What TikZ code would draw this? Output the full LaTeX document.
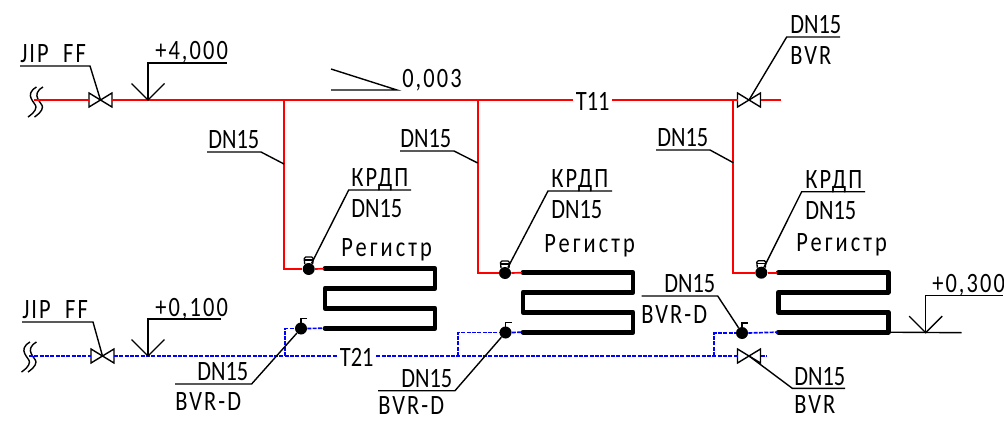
\documentclass[tikz,border=0pt]{standalone}
\usepackage{fontspec}
\setmainfont[FakeStretch=0.8]{Carlito}
\newfontfamily\widefont[FakeStretch=0.8,LetterSpace=7.5]{Carlito}
\newfontfamily\coilfont[FakeStretch=0.8,LetterSpace=11]{Carlito}
\usetikzlibrary{positioning}

\tikzset{
	textlabel/.style={inner sep=0pt, anchor=base west, font=\fontsize{21}{21}\selectfont},
	widelabel/.style={textlabel, font=\widefont\fontsize{21}{21}\selectfont},
	coillabel/.style={textlabel, font=\coilfont\fontsize{21}{21}\selectfont},
	hotpipe/.style={draw=red, line width=1.25pt},
	coldpipe/.style={draw=blue, line width=1.25pt, dash pattern=on 3pt off 1pt},
	leader/.style={draw=black, line width=1.05pt},
	dot/.style={circle, fill=black, inner sep=0pt, minimum size=9pt},
	pics/valve/.style={code={
		\draw[leader] (-11.5,-7) -- (11.5,7) -- (11.5,-7) -- (-11.5,7) -- cycle;
		\coordinate (-w) at (-11.5,0);
		\coordinate (-e) at (11.5,0);
		\coordinate (-c) at (0,0);
	}},
	pics/coil/.style={code={
		\draw[line width=3.6pt, line join=round, line cap=round] (1,0) -- (111,0) -- (111,19.5) -- (1,19.5)
			-- (1,39.5) -- (111,39.5) -- (111,59.5) -- (1,59.5);
		\coordinate (-in) at (0,0);
		\coordinate (-out) at (0,59.5);
		\coordinate (-far) at (111,59.5);
	}},
	pics/levelmark/.style={code={
		\draw[leader] (-16.5,-16.5) -- (0,0) -- (16.5,-16.5);
		\draw[leader] (0,0) |- (#1,-37);
	}},
	pics/breakmark/.style={code={
		\draw[leader] (2.5,-13) .. controls (-11,-5) and (2,3) .. (2,7) .. controls (2,11) and (-3,15) .. (-6,17);
		\draw[leader] (9,-13) .. controls (-4.5,-5) and (8.5,3) .. (8.5,7) .. controls (8.5,11) and (3.5,15) .. (0.5,17);
	}},
	pics/krdpcup/.style={code={
		\draw[line width=1pt] (-4,-5) -- (-4.5,-10.5) -- (-3,-12) -- (3,-12) -- (4.5,-10.5) -- (4,-5);
		\draw[line width=1pt] (-4.5,-9) -- (4.5,-9);
	}},
	pics/ventflag/.style={code={
		\draw[line width=1pt] (0,-5) -- (0,-10) -- (6,-10);
	}}
}

\begin{document}
\begin{tikzpicture}[x=0.75pt, y=-0.75pt]

\useasboundingbox (0,0) rectangle (1004,421);

\coordinate (hotStart) at (34,100);
\coordinate (hotEnd) at (781,100);
\coordinate (coldStart) at (29,356);
\coordinate (coldEnd) at (766,356);
\coordinate (hotTeeA) at (284,100);
\coordinate (hotTeeB) at (477.7,100);
\coordinate (hotTeeC) at (733.3,100);
\coordinate (coldTeeA) at (285,356);
\coordinate (coldTeeB) at (458.3,356);
\coordinate (coldTeeC) at (714.3,356);

\pic (valveHot) at (100.5,100) {valve};
\pic (valveHotEnd) at (749,100) {valve};
\pic (valveCold) at (102.5,356) {valve};
\pic (valveColdEnd) at (749,356) {valve};

\pic (coilA) at (324,268.7) {coil};
\pic (coilB) at (522,272.7) {coil};
\pic (coilC) at (777.3,272.7) {coil};

\node[dot] (krdpA) at (308.7,269) {};
\node[dot] (krdpB) at (505,273) {};
\node[dot] (krdpC) at (761.3,272.7) {};
\node[dot] (ventA) at (301,328.5) {};
\node[dot] (ventB) at (505.5,332.5) {};
\node[dot] (ventC) at (742,333) {};

\pic at (krdpA) {krdpcup};
\pic at (krdpB) {krdpcup};
\pic at (krdpC) {krdpcup};
\pic at (ventA) {ventflag};
\pic at (ventB) {ventflag};
\pic at (ventC) {ventflag};

\pic at (34,100) {breakmark};
\pic at (27.5,355) {breakmark};

\node[textlabel, fill=white, inner xsep=2pt] (pipeHot) at (573,110) {T11};
\node[textlabel, fill=white, inner xsep=2pt] (pipeCold) at (337,366) {T21};

% ---

\draw[hotpipe] (hotStart) -- (valveHot-w);
\draw[hotpipe] (valveHot-e) -- (pipeHot.west |- hotStart);
\draw[hotpipe] (pipeHot.east |- hotStart) -- (valveHotEnd-w);
\draw[hotpipe] (valveHotEnd-e) -- (hotEnd);
\draw[hotpipe] (hotTeeA) |- (krdpA.west);
\draw[hotpipe] (hotTeeB) |- (krdpB.west);
\draw[hotpipe] (hotTeeC) |- (krdpC.west);
\draw[hotpipe] (krdpA.east) -- (coilA-in);
\draw[hotpipe] (krdpB.east) -- (coilB-in);
\draw[hotpipe] (krdpC.east) -- (coilC-in);

\draw[coldpipe] (coldStart) -- (valveCold-w);
\draw[coldpipe] (valveCold-e) -- (pipeCold.west |- coldStart);
\draw[coldpipe] (pipeCold.east |- coldStart) -- (valveColdEnd-w);
\draw[coldpipe] (valveColdEnd-e) -- (coldEnd);
\draw[coldpipe] (coldTeeA) |- (ventA.west);
\draw[coldpipe] (coldTeeB) |- (ventB.west);
\draw[coldpipe] (coldTeeC) |- (ventC.west);
\draw[coldpipe] (ventA.east) -- (coilA-out);
\draw[coldpipe] (ventB.east) -- (coilB-out);
\draw[coldpipe] (ventC.east) -- (coilC-out);

% ---

\pic at (148,100) {levelmark=79};
\node[widelabel] (levelHot) at (155,60) {+4,000};

\pic at (148,356) {levelmark=73};
\node[widelabel] (levelCold) at (155,316) {+0,100};

\coordinate (levelReturnEnd) at (961.7,332.7);
\draw[leader] (coilC-far) -- (levelReturnEnd);
\pic at (925.7,332.7) {levelmark=77.5};
\node[widelabel] (levelReturn) at (932,292) {+0,300};

\coordinate (slopeTip) at (397,90);
\coordinate (slopeTop) at (331,69);
\coordinate (slopeBase) at (331,90);
\draw[leader] (slopeTop) -- (slopeTip) -- (slopeBase);
\node[widelabel] (slopeText) at (402,87) {0,003};

% ---

\node[widelabel] (jipHot) at (20,62) {JIP\ \ FF};
\coordinate (jipHotKnee) at (90,66);
\coordinate (jipHotEnd) at (20,66);
\draw[leader] (valveHot-c) -- (jipHotKnee) -- (jipHotEnd);

\node[widelabel] (jipCold) at (22,318) {JIP\ \ FF};
\coordinate (jipColdKnee) at (93,322);
\coordinate (jipColdEnd) at (22,322);
\draw[leader] (valveCold-c) -- (jipColdKnee) -- (jipColdEnd);

\node[textlabel] (sizeHotA) at (208,148) {DN15};
\coordinate (sizeHotAEnd) at (207,152);
\coordinate (sizeHotAKnee) at (261,152);
\coordinate (sizeHotAPipe) at (284,164);
\draw[leader] (sizeHotAEnd) -- (sizeHotAKnee) -- (sizeHotAPipe);

\node[textlabel] (sizeHotB) at (400,147) {DN15};
\coordinate (sizeHotBEnd) at (400,151);
\coordinate (sizeHotBKnee) at (454,151);
\coordinate (sizeHotBPipe) at (477.7,163);
\draw[leader] (sizeHotBEnd) -- (sizeHotBKnee) -- (sizeHotBPipe);

\node[textlabel] (sizeHotC) at (657,146) {DN15};
\coordinate (sizeHotCEnd) at (656,150);
\coordinate (sizeHotCKnee) at (710,150);
\coordinate (sizeHotCPipe) at (733.3,162.7);
\draw[leader] (sizeHotCEnd) -- (sizeHotCKnee) -- (sizeHotCPipe);

\node[textlabel] (valveEndSize) at (790,33) {DN15};
\node[widelabel, below=23.25pt of valveEndSize.base west, anchor=base west] (valveEndType) {BVR};
\coordinate (valveEndKnee) at (786.7,37);
\coordinate (valveEndShelf) at (840,37);
\draw[leader] (valveHotEnd-c) -- (valveEndKnee) -- (valveEndShelf);

\node[textlabel] (valveColdSize) at (794,385) {DN15};
\node[widelabel, below=21.5pt of valveColdSize.base west, anchor=base west] (valveColdType) {BVR};
\coordinate (valveColdKnee) at (792.3,388.3);
\coordinate (valveColdShelf) at (845,388.3);
\draw[leader] (valveColdEnd-c) -- (valveColdKnee) -- (valveColdShelf);

% ---

\node[widelabel] (krdpTextA) at (351,186) {КРДП};
\node[textlabel, below=23.25pt of krdpTextA.base west, anchor=base west] (krdpSizeA) {DN15};
\node[coillabel] (coilTextA) at (341,256) {Регистр};
\coordinate (krdpKneeA) at (348.7,190);
\coordinate (krdpShelfA) at (411,190);
\draw[leader] (krdpA) -- (krdpKneeA) -- (krdpShelfA);

\node[widelabel] (krdpTextB) at (551,187) {КРДП};
\node[textlabel, below=23.25pt of krdpTextB.base west, anchor=base west] (krdpSizeB) {DN15};
\node[coillabel] (coilTextB) at (544,252.7) {Регистр};
\coordinate (krdpKneeB) at (548,191);
\coordinate (krdpShelfB) at (612,191);
\draw[leader] (krdpB) -- (krdpKneeB) -- (krdpShelfB);

\node[widelabel] (krdpTextC) at (805,188) {КРДП};
\node[textlabel, below=23.25pt of krdpTextC.base west, anchor=base west] (krdpSizeC) {DN15};
\node[coillabel] (coilTextC) at (796,251.7) {Регистр};
\coordinate (krdpKneeC) at (801.7,191.7);
\coordinate (krdpShelfC) at (865,191.7);
\draw[leader] (krdpC) -- (krdpKneeC) -- (krdpShelfC);

% ---

\node[textlabel] (ventSizeA) at (197,380.5) {DN15};
\node[widelabel] (ventTypeA) at (175,410) {BVR-D};
\coordinate (ventKneeA) at (251.6,384);
\coordinate (ventShelfA) at (175,384);
\draw[leader] (ventA) -- (ventKneeA) -- (ventShelfA);

\node[textlabel] (ventSizeB) at (401,387) {DN15};
\node[widelabel] (ventTypeB) at (378,414) {BVR-D};
\coordinate (ventKneeB) at (455,390.7);
\coordinate (ventShelfB) at (378,390.7);
\draw[leader] (ventB) -- (ventKneeB) -- (ventShelfB);

\node[textlabel] (ventSizeC) at (664,292) {DN15};
\node[widelabel] (ventTypeC) at (641,323) {BVR-D};
\coordinate (ventKneeC) at (717.7,296);
\coordinate (ventShelfC) at (641.7,296);
\draw[leader] (ventC) -- (ventKneeC) -- (ventShelfC);

\end{tikzpicture}
\end{document}
